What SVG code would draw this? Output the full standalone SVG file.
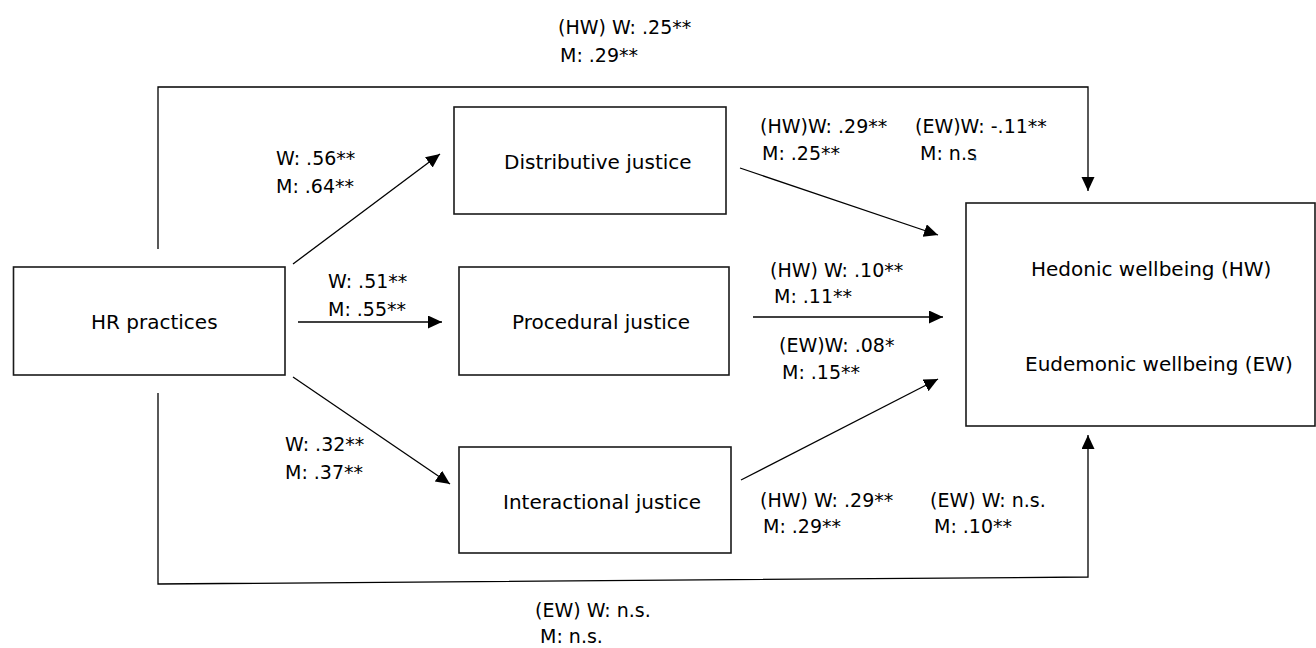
<svg xmlns="http://www.w3.org/2000/svg" width="1316" height="648" viewBox="0 0 1316 648">
<style>
.box{fill:#fff;stroke:#1a1a1a;stroke-width:1.6}
.t{font-family:"DejaVu Sans",Verdana,sans-serif;font-size:19px;fill:#000}
.n{font-family:"DejaVu Sans",Verdana,sans-serif;font-size:20px;fill:#000}
.c{fill:none;stroke:#000;stroke-width:1.3}
</style>
<defs>
<marker id="ah" markerUnits="userSpaceOnUse" markerWidth="15" markerHeight="14" refX="14" refY="6.5" orient="auto">
<path d="M0,0 L14,6.5 L0,13 z" fill="#000"/>
</marker>
</defs>
<rect width="1316" height="648" fill="#fff"/>
<g id="connectors">
<polyline class="c" points="158,249 158,87 1088,87 1088,191" marker-end="url(#ah)"/>
<polyline class="c" points="158,393 158,584 1088,577 1088,435" marker-end="url(#ah)"/>
<line class="c" x1="293" y1="264" x2="440" y2="154" marker-end="url(#ah)"/>
<line class="c" x1="298" y1="322" x2="442" y2="322" marker-end="url(#ah)"/>
<line class="c" x1="293" y1="377" x2="450" y2="484" marker-end="url(#ah)"/>
<line class="c" x1="740" y1="168" x2="938" y2="235" marker-end="url(#ah)"/>
<line class="c" x1="753" y1="317" x2="943" y2="317" marker-end="url(#ah)"/>
<line class="c" x1="741" y1="480" x2="938" y2="379" marker-end="url(#ah)"/>
</g>
<g id="hr">
<rect class="box" x="13.5" y="267" width="271.5" height="108"/>
<text class="n" x="91" y="329">HR practices</text>
</g>
<g id="distributive">
<rect class="box" x="454" y="107" width="272" height="107"/>
<text class="n" x="504" y="169">Distributive justice</text>
</g>
<g id="procedural">
<rect class="box" x="459" y="267" width="270" height="108"/>
<text class="n" x="512" y="329">Procedural justice</text>
</g>
<g id="interactional">
<rect class="box" x="459" y="447" width="272" height="106"/>
<text class="n" x="503" y="509">Interactional justice</text>
</g>
<g id="wellbeing">
<rect class="box" x="966" y="203" width="349" height="223"/>
<text class="n" x="1031" y="276">Hedonic wellbeing (HW)</text>
<text class="n" x="1025" y="371">Eudemonic wellbeing (EW)</text>
</g>
<g id="labels">
<text class="t" x="558" y="34">(HW) W: .25**</text>
<text class="t" x="560" y="62">M: .29**</text>
<text class="t" x="276" y="165">W: .56**</text>
<text class="t" x="276" y="193">M: .64**</text>
<text class="t" x="328" y="288">W: .51**</text>
<text class="t" x="328" y="316">M: .55**</text>
<text class="t" x="285" y="451">W: .32**</text>
<text class="t" x="285" y="479">M: .37**</text>
<text class="t" x="760" y="133">(HW)W: .29**</text>
<text class="t" x="762" y="160">M: .25**</text>
<text class="t" x="915" y="133">(EW)W: -.11**</text>
<text class="t" x="920" y="160">M: n.s</text>
<circle cx="975" cy="159" r="1.5" fill="#2e75b6"/>
<text class="t" x="770" y="277">(HW) W: .10**</text>
<text class="t" x="774" y="303">M: .11**</text>
<text class="t" x="779" y="352">(EW)W: .08*</text>
<text class="t" x="782" y="379">M: .15**</text>
<text class="t" x="760" y="507">(HW) W: .29**</text>
<text class="t" x="763" y="533">M: .29**</text>
<text class="t" x="930" y="507">(EW) W: n.s.</text>
<text class="t" x="934" y="533">M: .10**</text>
<text class="t" x="535" y="617">(EW) W: n.s.</text>
<text class="t" x="540" y="643">M: n.s.</text>
</g>
</svg>
